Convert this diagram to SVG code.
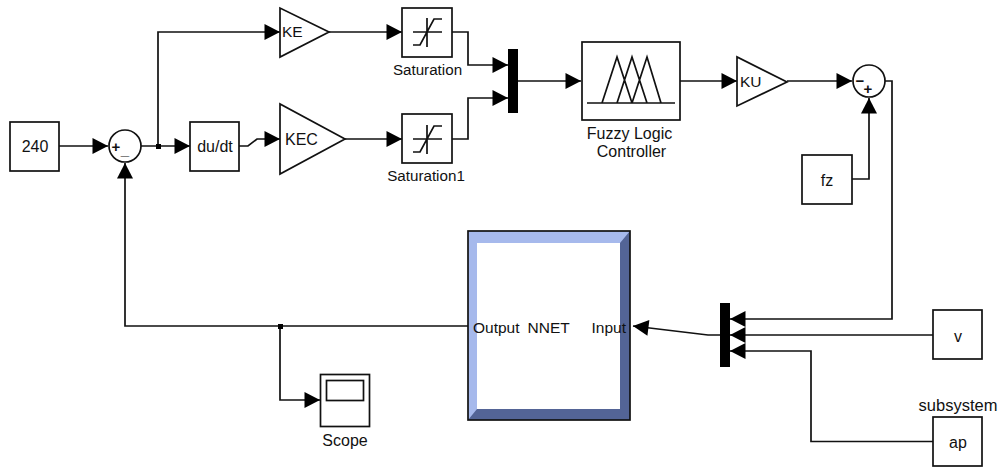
<svg xmlns="http://www.w3.org/2000/svg" width="998" height="468" viewBox="0 0 998 468">
<style>
text{font-family:"Liberation Sans",Arial,sans-serif;font-size:15.500px;fill:#111}
.m{text-anchor:middle}
.b{fill:#fff;stroke:#111;stroke-width:1.700}
.w{fill:none;stroke:#111;stroke-width:1.700}
.k{fill:#000;stroke:none}
.s{font-size:15px;font-weight:bold}
.l{font-size:16px}
.t{font-size:15.200px}
</style>
<defs>
<marker id="a" markerUnits="userSpaceOnUse" markerWidth="16" markerHeight="17" viewBox="0 0 16 17" refX="16" refY="8.500" orient="auto"><path d="M0.500 0.500L16 8.500L0.500 16.500Z" fill="#000"/></marker>
<g id="sat"><path class="w" d="M11 24H40M25 10V39M11 37H18L32 11H40"/></g>
</defs>
<rect width="998" height="468" fill="#fff"/>
<g id="connectors">
<path class="w" marker-end="url(#a)" d="M59 146H108"/>
<path class="w" marker-end="url(#a)" d="M141 146H190"/>
<path class="w" marker-end="url(#a)" d="M158 146V32H280"/>
<path class="w" marker-end="url(#a)" d="M239 146H248L257 139H280"/>
<path class="w" marker-end="url(#a)" d="M329 32H402"/>
<path class="w" marker-end="url(#a)" d="M345 139H402"/>
<path class="w" marker-end="url(#a)" d="M452 32H468V65H508"/>
<path class="w" marker-end="url(#a)" d="M452 139H468V98H508"/>
<path class="w" marker-end="url(#a)" d="M517 81H581"/>
<path class="w" marker-end="url(#a)" d="M680 81H737"/>
<path class="w" marker-end="url(#a)" d="M787 81H852"/>
<path class="w" marker-end="url(#a)" d="M852 179H869V98"/>
<path class="w" marker-end="url(#a)" d="M885 81H892V319H730"/>
<path class="w" marker-end="url(#a)" d="M933 335H730"/>
<path class="w" marker-end="url(#a)" d="M933 441.500H811V351H730"/>
<path class="w" marker-end="url(#a)" d="M720 335H708L633 326"/>
<path class="w" marker-end="url(#a)" d="M468 326H125V163"/>
<path class="w" marker-end="url(#a)" d="M280 326V400H320"/>
<rect class="k" x="156" y="144" width="5" height="5"/>
<rect class="k" x="278" y="324" width="5" height="5"/>
</g>
<g id="n240"><rect class="b" x="10" y="122" width="49" height="49"/><text class="m l" x="35" y="152">240</text></g>
<g id="sum1"><circle class="b" cx="125" cy="146" r="16"/><text class="m s" x="116" y="152">+</text><text class="m s" x="125" y="155">_</text></g>
<g id="dudt"><rect class="b" x="190" y="122" width="49" height="49"/><text class="m l" x="215" y="152">du/dt</text></g>
<g id="ke"><path class="b" d="M280 8V57L329 32Z"/><text x="282" y="37">KE</text></g>
<g id="kec"><path class="b" d="M280 104V174L345 139Z"/><text class="l" x="285" y="145">KEC</text></g>
<g id="saturation"><rect class="b" x="402" y="8" width="50" height="49"/><use href="#sat" x="402" y="8"/><text class="m t" x="427.500" y="75">Saturation</text></g>
<g id="saturation1"><rect class="b" x="402" y="114" width="50" height="49"/><use href="#sat" x="402" y="115"/><text class="m t" x="426" y="181">Saturation1</text></g>
<g id="mux1"><rect class="k" x="508" y="49" width="10" height="64"/></g>
<g id="fuzzy"><rect class="b" x="582" y="42" width="98" height="78"/><path class="w" d="M587 103H675M602 103L617 57L632 103M617 103L632 57L647 103M632 103L647 57L661 103"/><text class="m l" x="629.500" y="139">Fuzzy Logic</text><text class="m l" x="631.500" y="157">Controller</text></g>
<g id="ku"><path class="b" d="M737 57V106L787 82Z"/><text x="740" y="87">KU</text></g>
<g id="sum2"><circle class="b" cx="869" cy="81" r="16"/><text class="m s" x="860" y="86">−</text><text class="m s" x="868" y="94">+</text></g>
<g id="fz"><rect class="b" x="802" y="155" width="50" height="49"/><text class="m l" x="827" y="186">fz</text></g>
<g id="nnet">
<rect x="468" y="231" width="162" height="189" fill="#a6b9ec"/>
<path d="M630 231V420H468L477 409H620V243Z" fill="#536496"/>
<rect x="477" y="243" width="143" height="166" fill="#fff"/>
<rect x="468" y="231" width="162" height="189" fill="none" stroke="#111" stroke-width="1.700"/>
<text x="473" y="332.500">Output</text><text x="527.500" y="332.500">NNET</text><text x="591.500" y="332.500">Input</text>
</g>
<g id="mux2"><rect class="k" x="720" y="303" width="10" height="64"/></g>
<g id="v"><rect class="b" x="933" y="310" width="49" height="49"/><text class="m l" x="958" y="342">v</text></g>
<g id="ap"><rect class="b" x="933" y="417" width="49" height="49"/><text class="m l" x="958" y="448">ap</text><text x="958" y="411" class="m" style="font-size:16.500px">subsystem</text></g>
<g id="scope"><rect class="b" x="320.500" y="374.500" width="49" height="52"/><rect class="b" x="326.500" y="380.500" width="37" height="20"/><text class="m l" x="345" y="446">Scope</text></g>
</svg>
